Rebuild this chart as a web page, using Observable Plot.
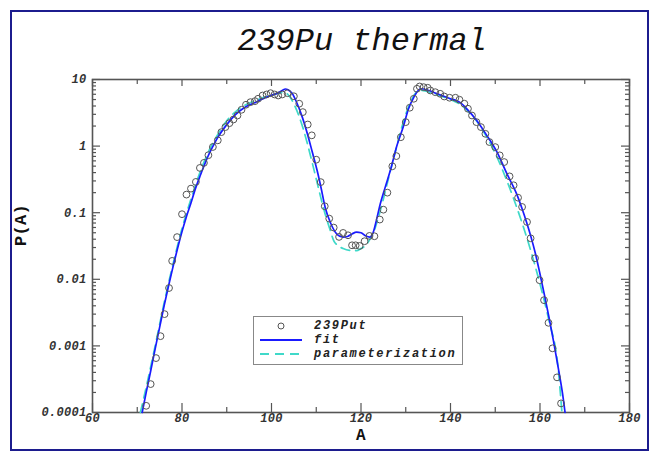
<!DOCTYPE html>
<html>
<head>
<meta charset="utf-8">
<script src="https://cdn.jsdelivr.net/npm/d3@7"></script>
<script src="https://cdn.jsdelivr.net/npm/@observablehq/plot@0.6"></script>
<style>
  html, body { margin: 0; padding: 0; background: #fff; }
  #wrap { position: relative; width: 653px; height: 454px; overflow: hidden; background: #fff; }
  #border { position: absolute; left: 10px; top: 10px; width: 635px; height: 437px; border: 2px solid #1c1c8e; }
  #title { position: absolute; left: 0; top: 24px; width: 724px; text-align: center;
           font-family: "Liberation Mono", "DejaVu Sans Mono", monospace; font-style: italic;
           font-size: 32px; line-height: 36px; color: #111; }
  #chart { position: absolute; left: 0; top: 0; }
  #chart svg text { letter-spacing: 0.3px; }
  #legend { position: absolute; left: 253px; top: 316px; width: 208px; height: 47px;
            border: 1px solid #888; background: #fff; }
  #legend .row { position: absolute; left: 0; height: 14px; width: 208px; }
  #legend svg { position: absolute; left: 0; top: 0; }
  #legend span { position: absolute; left: 60px; top: 0; font-family: "Liberation Mono", monospace;
                 font-style: italic; font-weight: bold; font-size: 12px; line-height: 14px;
                 letter-spacing: 1.7px; color: #222; white-space: nowrap; }
</style>
</head>
<body>
<div id="wrap">
  <div id="border"></div>
  <div id="title">239Pu thermal</div>
  <div id="chart"></div>
  <div id="legend"></div>
</div>
<script>
// ---- data ----
const dataA = [72.0,73.0,74.2,75.2,76.1,77.1,77.8,78.9,
  80.0,81.0,82.0,83.1,84.0,84.9,85.9,86.9,
  88.0,88.8,89.7,90.6,91.5,92.4,93.3,94.3,
  95.3,96.3,97.0,98.0,98.9,99.8,100.7,101.5,
  102.4,103.6,105.0,106.2,107.0,108.1,109.0,110.0,
  111.0,111.9,112.9,113.9,115.1,116.0,117.1,118.0,
  118.8,119.7,120.8,121.9,123.0,124.2,125.0,125.9,
  127.0,127.9,128.9,130.0,130.9,131.8,132.5,133.1,
  134.0,134.9,135.5,136.6,137.7,138.6,139.8,141.1,
  142.0,143.1,143.9,144.8,145.8,146.8,147.8,148.7,
  150.0,151.0,152.0,153.2,154.1,155.1,156.0,157.1,
  157.9,158.9,159.9,160.9,161.9,162.8,163.8,164.7];
const dataP = [1.26e-4,2.67e-4,6.56e-4,1.40e-3,3.0e-3,7.4e-3,0.0189,0.043,
  0.095,0.187,0.23,0.29,0.47,0.56,0.73,0.97,
  1.22,1.62,1.93,2.21,2.51,2.88,3.51,4.18,
  4.57,4.73,5.14,5.75,5.96,6.23,5.96,5.75,
  5.96,6.23,5.6,4.33,3.24,2.11,1.45,0.625,
  0.288,0.125,0.0816,0.0598,0.0433,0.0497,0.0458,0.0324,
  0.0324,0.0317,0.0373,0.0448,0.0443,0.0789,0.111,0.200,
  0.497,0.708,1.36,2.29,3.77,5.14,7.26,7.86,
  7.67,7.51,6.84,6.45,6.1,5.56,5.32,5.32,
  4.97,4.33,3.64,2.88,2.29,1.93,1.53,1.15,
  0.966,0.726,0.576,0.351,0.258,0.168,0.122,0.0726,
  0.0413,0.0207,0.0097,0.00486,0.00222,0.00092,0.000337,0.000137];

const fitA = [71.1,72,73,74,75,76,77,78,79,80,81,82,83,84,85,86,87,88,90,92,94,96,98,100,
  101.5,102.5,103.1,103.7,104.6,105.7,106.9,108,109.1,110.2,111,112,113.2,114.7,116,117,118,119,
  120,121,122,122.7,123.5,124.3,125.4,126.6,128,129.5,130.6,131.8,133.3,135,137,140,142.2,143.7,
  145.9,148.1,150.4,152.6,154.8,156,157,158,159,160,161,162,163,164,165,165.6];
const fitP = [1e-4,2.0e-4,4.2e-4,9e-4,1.9e-3,4.0e-3,8.0e-3,0.0155,0.029,0.052,0.088,0.14,0.23,0.35,0.52,0.75,1.02,1.35,2.1,3.0,3.8,4.4,5.1,5.8,
  6.3,6.9,7.2,7.0,6.2,4.4,2.7,1.55,0.82,0.43,0.25,0.12,0.07,0.047,0.043,0.044,0.048,0.051,
  0.050,0.045,0.043,0.05,0.08,0.135,0.24,0.44,1.0,2.0,3.6,5.4,7.26,6.9,6.1,5.15,4.5,3.6,
  2.4,1.45,0.81,0.385,0.19,0.115,0.072,0.043,0.024,0.012,0.0058,0.0027,0.0012,0.0005,0.0002,1e-4];

const paramA = [70.7,72,74,76,78,80,82,84,86,88,90,92,94,96,98,100,102,103,104,105,106,107,108,109,110,
  111,112,113,114,116,118,119,120,121,122,123,124,125,126,127,128,129,130,131,132,133,134,136,138,140,
  142,144,146,148,150,152,154,156,158,160,162,164,164.9];
const paramP = [1e-4,2.4e-4,1.0e-3,4.4e-3,0.017,0.058,0.16,0.40,0.85,1.5,2.4,3.3,4.1,4.7,5.3,5.8,6.3,6.4,5.6,4.3,3.0,1.9,1.1,0.6,0.32,
  0.17,0.095,0.058,0.037,0.029,0.027,0.027,0.029,0.032,0.040,0.055,0.09,0.16,0.3,0.55,1.0,1.8,3.0,4.5,6.0,6.9,6.8,6.2,5.6,5.0,
  4.3,3.3,2.3,1.4,0.78,0.38,0.17,0.07,0.026,0.0085,0.0024,0.0005,1e-4];

const xMajor = [60,80,100,120,140,160,180];
const xMinor = [70,90,110,130,150,170];
const yMajor = [1e-4,1e-3,1e-2,1e-1,1,10];
const yLabels = ["0.0001","0.001","0.01","0.1","1","10"];
const yMinorMult = [2,3,4,5,6,7,8,9];
const yDecades = [1e-4,1e-3,1e-2,1e-1,1];
const seriesNames = ["239Put","fit","parameterization"];
const xTitle = "A";
const yTitle = "P(A)";

// ---- build ----
const points = dataA.map((a,i)=>({A:a, P:dataP[i]}));
const fit = fitA.map((a,i)=>({A:a, P:fitP[i]}));
const param = paramA.map((a,i)=>({A:a, P:paramP[i]}));
const yMinor = yDecades.flatMap(d => yMinorMult.map(m => m*d));

const W = 653, H = 454;
const mL = 92, mR = 24, mT = 79, mB = 42;
const innerW = W - mL - mR, innerH = H - mT - mB;
const axisColor = "#555";
const font = "Liberation Mono";

const tickStyle = {stroke: axisColor, strokeWidth: 1.2};

const chart = Plot.plot({
  width: W, height: H,
  marginLeft: mL, marginRight: mR, marginTop: mT, marginBottom: mB,
  style: {background: "transparent", fontFamily: font},
  x: {domain: [60, 180], axis: null},
  y: {type: "log", domain: [1e-4, 10], axis: null},
  marks: [
    // ticks (inward) on all four sides
    Plot.ruleX(xMajor, {x: d => d, insetTop: innerH - 9, ...tickStyle}),
    Plot.ruleX(xMinor, {x: d => d, insetTop: innerH - 5, ...tickStyle}),
    Plot.ruleX(xMajor, {x: d => d, insetBottom: innerH - 7, ...tickStyle}),
    Plot.ruleX(xMinor, {x: d => d, insetBottom: innerH - 5, ...tickStyle}),
    Plot.ruleY(yMajor, {y: d => d, insetRight: innerW - 8, ...tickStyle}),
    Plot.ruleY(yMinor, {y: d => d, insetRight: innerW - 4, ...tickStyle}),
    Plot.ruleY(yMajor, {y: d => d, insetLeft: innerW - 8, ...tickStyle}),
    Plot.ruleY(yMinor, {y: d => d, insetLeft: innerW - 4, ...tickStyle}),
    Plot.frame({stroke: axisColor, strokeWidth: 1.6}),
    // tick labels
    Plot.text(xMajor, {x: d => d, frameAnchor: "bottom", dy: 9, text: d => String(d),
      fontSize: 12, fontWeight: "bold", fontStyle: "italic", fill: "#333"}),
    Plot.text(yMajor, {y: d => d, frameAnchor: "left", dx: -6, textAnchor: "end",
      text: (d, i) => yLabels[i], fontSize: 12, fontWeight: "bold", fontStyle: "italic", fill: "#333"}),
    // axis titles
    Plot.text([xTitle], {frameAnchor: "bottom", dy: 27, text: d => d, fontSize: 16, fontWeight: "bold", fill: "#111"}),
    Plot.text([yTitle], {frameAnchor: "left", dx: -72, rotate: -90, text: d => d, fontSize: 17, fontWeight: "bold", fill: "#111"}),
    // series
    Plot.line(param, {x: "A", y: "P", stroke: "#3fd9c9", strokeWidth: 1.7, strokeDasharray: "9,6", curve: "monotone-x"}),
    Plot.line(fit, {x: "A", y: "P", stroke: "#1a1aff", strokeWidth: 1.7, curve: "monotone-x"}),
    Plot.dot(points, {x: "A", y: "P", r: 3.4, stroke: "#555", strokeWidth: 1, fill: "none"})
  ]
});
document.getElementById("chart").appendChild(chart);

// ---- legend ----
const legend = document.getElementById("legend");
const rowsTop = [2, 16, 30];
const symbols = [
  `<svg width="56" height="14"><circle cx="27" cy="7" r="3" fill="none" stroke="#555" stroke-width="1"/></svg>`,
  `<svg width="56" height="14"><line x1="6" x2="48" y1="7" y2="7" stroke="#1a1aff" stroke-width="2"/></svg>`,
  `<svg width="56" height="14"><line x1="6" x2="48" y1="7" y2="7" stroke="#3fd9c9" stroke-width="2" stroke-dasharray="9,6"/></svg>`
];
seriesNames.forEach((name, i) => {
  const row = document.createElement("div");
  row.className = "row";
  row.style.top = rowsTop[i] + "px";
  row.innerHTML = symbols[i] + `<span>${name}</span>`;
  legend.appendChild(row);
});
</script>
</body>
</html>
